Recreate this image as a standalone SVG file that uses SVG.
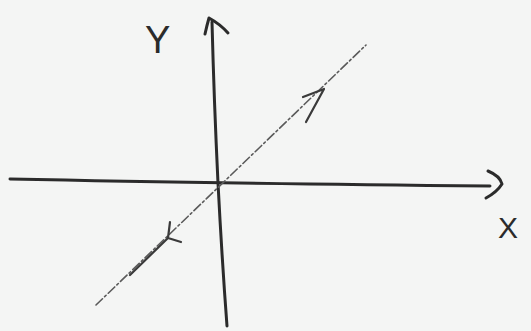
<svg xmlns="http://www.w3.org/2000/svg" width="531" height="331" viewBox="0 0 531 331">
<style>
.axis{fill:none;stroke:#2b2b2b;stroke-width:3;stroke-linecap:round;stroke-linejoin:round}
.diag{fill:none;stroke:#5a5a5a;stroke-width:1.6;stroke-linecap:round;stroke-dasharray:9 3 2 3}
.head{fill:none;stroke:#3a3a3a;stroke-width:2.2;stroke-linecap:round;stroke-linejoin:round}
.lbl{font-family:"Liberation Sans",Arial,sans-serif;fill:#2b2b2b;font-weight:300}
</style>
<rect width="531" height="331" fill="#f4f5f4"/>
<g id="x-axis">
<path class="axis" d="M10 179 Q200 183 490 186"/>
<path class="axis" d="M488 171 Q500 176 502 184 Q497 192 486 198"/>
<text class="lbl" x="498" y="238" font-size="30">X</text>
</g>
<g id="y-axis">
<path class="axis" d="M212 22 Q214 100 218 183 Q222 260 227 326"/>
<path class="axis" d="M205 34 Q207 25 209 18 Q220 24 228 33"/>
<text class="lbl" x="145" y="53" font-size="38">Y</text>
</g>
<g id="diagonal">
<path class="diag" d="M96 305 L366 45"/>
<path class="head" d="M130 275 L168 238"/>
<path class="head" d="M170 222 L168 238 L181 242"/>
<path class="head" d="M303 97 L324 89 L306 122"/>
</g>
</svg>
